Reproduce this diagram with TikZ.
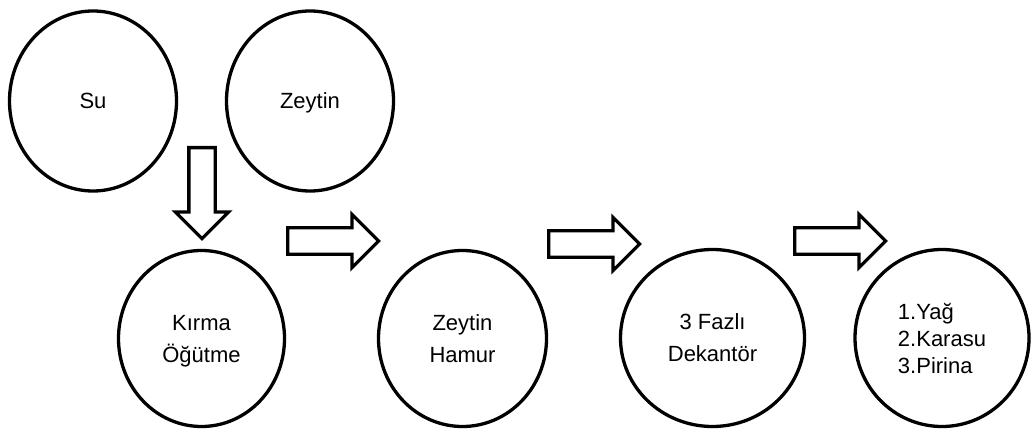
\documentclass[tikz,border=0pt]{standalone}
\usepackage{fontspec}
\setmainfont{Liberation Sans}
\usetikzlibrary{shapes.geometric, shapes.arrows}
\tikzset{
    stage/.style={ellipse, draw, line width=3.3pt, inner sep=0pt, text depth=0pt,
        align=center, font=\fontsize{22}{32}\selectfont},
    flow/.style={single arrow, draw, line width=3.3pt, inner sep=11.5pt,
        minimum height=91pt, minimum width=50pt, single arrow head extend=13.5pt, anchor=tail}
}
\begin{document}
\begin{tikzpicture}[x=1pt, y=-1pt]
    \useasboundingbox (0,0) rectangle (1032,430);

    \node[stage, minimum width=167pt, minimum height=180pt] (su) at (93,101) {Su};
    \node[stage, minimum width=167pt, minimum height=180pt] (zeytin) at (310,101) {Zeytin};

    \node[stage, minimum width=166pt, minimum height=176pt] (kirma) at (201.5,338.5) {Kırma\\Öğütme};
    \node[stage, minimum width=168pt, minimum height=176pt] (hamur) at (462.5,338.5) {Zeytin\\Hamur};
    \node[stage, minimum width=184pt, minimum height=177pt] (dekantor) at (712.5,338) {3 Fazlı\\Dekantör};
    \node[stage, minimum width=174pt, minimum height=177pt, align=left,
        font=\fontsize{22}{27}\selectfont] (urun) at (942,338) {1.Yağ\\2.Karasu\\3.Pirina};

    \node[flow, shape border rotate=270] (toKirma) at (202,146) {};
    \node[flow] (toHamur) at (286,241) {};
    \node[flow] (toDekantor) at (547,244) {};
    \node[flow] (toUrun) at (793,241) {};

\end{tikzpicture}
\end{document}
